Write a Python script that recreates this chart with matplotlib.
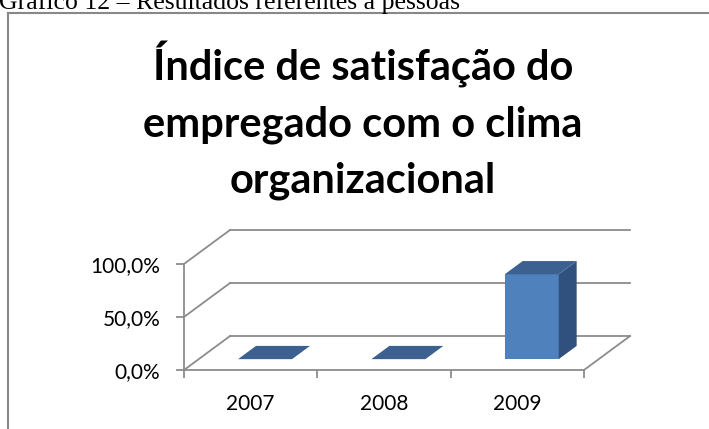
import numpy as np
import matplotlib as mpl
mpl.use('Agg')
from matplotlib import pyplot as plt
from matplotlib.patches import Polygon
from matplotlib.lines import Line2D

# data
years = ['2007', '2008', '2009']
values = [0.0, 0.0, 0.80]
y_ticks = [0.0, 0.5, 1.0]
y_tick_labels = ['0,0%', '50,0%', '100,0%']
title_lines = ['Índice de satisfação do', 'empregado com o clima', 'organizacional']
caption = 'Gráfico 12 – Resultados referentes a pessoas'

# 3d look: depth offset of the back wall, in data units
DX = 0.345
DY = 0.32
BAR_W = 0.405
BAR_X0 = 0.295
F0, F1 = 0.32, 0.71   # bar sits between these depth fractions

GRID = '#8c8c8c'
FRONT = '#4f81bd'
TOP = '#3c6191'
SIDE = '#30507d'

W, H = 709, 429
fig = plt.figure(figsize=(W / 100, H / 100), dpi=100)


def px(x, y):
    # pixel (from top-left) -> figure fraction
    return x / W, 1 - y / H


# caption above the frame, cut off at the top edge like in the source
fig.text(*px(-1, 9), caption, family='Liberation Serif', fontsize=18.5,
         ha='left', va='baseline', color='black')

# chart frame
fig.add_artist(Line2D([8 / W, 8 / W], [0, 1 - 13 / H], color='#888888', lw=1.5))
fig.add_artist(Line2D([8 / W, 1], [1 - 13 / H, 1 - 13 / H], color='#888888', lw=1.5))

# title
for txt, base in zip(title_lines, [80, 137, 193]):
    fig.text(*px(363, base), txt, family='Lato', weight='bold', fontsize=30,
             ha='center', va='baseline')

left, bottom = px(184, 370)
ax = fig.add_axes([left, bottom, 448 / W, 140 / H])
ax.set_xlim(0, 3.36)
ax.set_ylim(0, 1.32)
ax.patch.set_visible(False)
for s in ['top', 'right']:
    ax.spines[s].set_visible(False)
ax.spines['left'].set_bounds(0, 1.0)
ax.spines['bottom'].set_bounds(0, 3)
for s in ['left', 'bottom']:
    ax.spines[s].set_color(GRID)
    ax.spines[s].set_linewidth(1.3)

ax.set_yticks(y_ticks)
ax.set_yticklabels(y_tick_labels)
ax.tick_params(axis='y', length=6, width=1.3, color=GRID, pad=11, labelsize=15)
ax.set_xticks(np.arange(len(years) + 1))
ax.set_xticklabels([])
ax.set_xticks(np.arange(len(years)) + 0.5, minor=True)
ax.set_xticklabels(years, minor=True)
ax.tick_params(axis='x', which='major', length=6, width=1.3, color=GRID)
ax.tick_params(axis='x', which='minor', length=0, pad=17, labelsize=15)
for lab in ax.get_xticklabels(minor=True) + ax.get_yticklabels():
    lab.set_family('Lato')

# back wall gridlines and left wall diagonals
n = len(years)
for v in y_ticks:
    ax.plot([DX, n + DX], [v + DY, v + DY], color=GRID, lw=1.3, clip_on=False, zorder=1)
    ax.plot([0, DX], [v, v + DY], color=GRID, lw=1.3, clip_on=False, zorder=1)
# right floor edge
ax.plot([n, n + DX], [0, DY], color=GRID, lw=1.3, clip_on=False, zorder=1)

# bars
for i, v in enumerate(values):
    x0 = i + BAR_X0 + F0 * DX
    y0 = F0 * DY
    x1 = x0 + BAR_W
    ddx = (F1 - F0) * DX
    ddy = (F1 - F0) * DY
    top = [(x0, y0 + v), (x1, y0 + v), (x1 + ddx, y0 + v + ddy), (x0 + ddx, y0 + v + ddy)]
    if v > 0:
        front = [(x0, y0), (x1, y0), (x1, y0 + v), (x0, y0 + v)]
        side = [(x1, y0), (x1 + ddx, y0 + ddy), (x1 + ddx, y0 + v + ddy), (x1, y0 + v)]
        ax.add_patch(Polygon(front, closed=True, fc=FRONT, ec='none', zorder=3, clip_on=False))
        ax.add_patch(Polygon(side, closed=True, fc=SIDE, ec='none', zorder=3, clip_on=False))
    ax.add_patch(Polygon(top, closed=True, fc=TOP, ec='none', zorder=3, clip_on=False))

fig.savefig('out.png', dpi=100)
